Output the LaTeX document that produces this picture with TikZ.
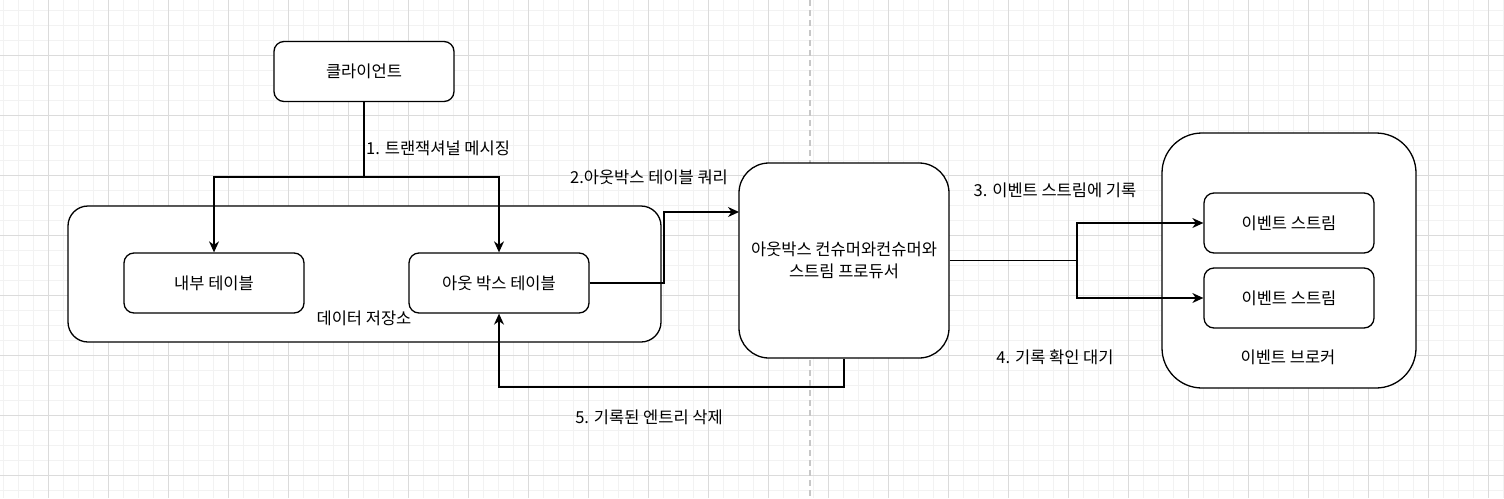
\documentclass[tikz,border=0pt]{standalone}
\usepackage{fontspec}
\setmainfont{Noto Sans CJK KR}
\usetikzlibrary{arrows.meta}

\tikzset{
  caja/.style={draw=black, line width=1.3pt, fill=white, rounded corners=10pt,
    minimum width=180pt, minimum height=60pt, inner sep=0pt},
  flecha/.style={line width=1.3pt, -{Stealth[length=11pt,width=10pt,inset=3.5pt]}},
  linea/.style={line width=1.3pt},
  etiqueta/.style={inner sep=0pt},
  gridmenor/.style={draw=black!5, line width=1pt},
  gridmayor/.style={draw=black!14, line width=1pt},
  divisor/.style={draw=black!22, line width=1.6pt, dash pattern=on 6pt off 4pt},
}

\begin{document}
\begin{tikzpicture}[x=1pt, y=-1pt, every node/.style={font=\fontsize{16.5}{22}\selectfont}]

% Fondo y cuadrícula
\useasboundingbox (0,0) rectangle (1504,498);
\fill[white] (0,0) rectangle (1504,498);
\foreach \x in {3,18,...,1503}
\draw[gridmenor] (\x,0) -- (\x,498);
\foreach \y in {10,25,...,490}
\draw[gridmenor] (0,\y) -- (1504,\y);
\foreach \x in {48,108,...,1488}
\draw[gridmayor] (\x,0) -- (\x,498);
\foreach \y in {55,115,...,475}
\draw[gridmayor] (0,\y) -- (1504,\y);

% Línea divisoria
\draw[divisor] (810,0) -- (810,498);

% Contenedores grandes
\node[caja, minimum width=593pt, minimum height=136pt, rounded corners=20pt] (almacen) at (364.5,274) {};
\node[caja, minimum width=254pt, minimum height=255pt, rounded corners=40pt] (broker) at (1289,260.5) {};

% Cajas
\node[caja] (cliente) at (364,71.5) {클라이언트};
\node[caja] (interna) at (214,283) {내부 테이블};
\node[caja] (outbox) at (499,283) {아웃 박스 테이블};
\node[caja, minimum width=210pt, minimum height=195pt, rounded corners=30pt, align=center] (consumidor) at (844,260.5) {아웃박스 컨슈머와컨슈머와\\스트림 프로듀서};
\node[caja, minimum width=170pt] (stream1) at (1289,223) {이벤트 스트림};
\node[caja, minimum width=170pt] (stream2) at (1289,298) {이벤트 스트림};

% Etiquetas de contenedores
\node[etiqueta] (almacenlbl) at (364,318) {데이터 저장소};
\node[etiqueta] (brokerlbl) at (1288,357) {이벤트 브로커};

% Puntos de quiebre
\coordinate (rama1) at (364,177);
\coordinate (codo2) at (664,283);
\coordinate (entrada2) at (739,212);
\coordinate (rama3) at (1077,260.5);
\coordinate (codo5) at (844,387);

% Conectores
\draw[linea] (cliente.south) -- (rama1);
\draw[flecha] (rama1) -| (interna.north);
\draw[flecha] (rama1) -| (outbox.north);
\draw[flecha] (outbox.east) -- (codo2) |- (entrada2);
\draw[linea] (consumidor.east) -- (rama3);
\draw[flecha] (rama3) |- (stream1.west);
\draw[flecha] (rama3) |- (stream2.west);
\draw[flecha] (consumidor.south) -- (codo5) -| (outbox.south);

% Textos de los pasos
\node[etiqueta, anchor=west] (paso1) at (366,148) {1. 트랜잭셔널 메시징};
\node[etiqueta] (paso2) at (649,177) {2.아웃박스 테이블 쿼리};
\node[etiqueta] (paso3) at (1055,190) {3. 이벤트 스트림에 기록};
\node[etiqueta] (paso4) at (1055,357) {4. 기록 확인 대기};
\node[etiqueta] (paso5) at (649,417) {5. 기록된 엔트리 삭제};

\end{tikzpicture}
\end{document}
